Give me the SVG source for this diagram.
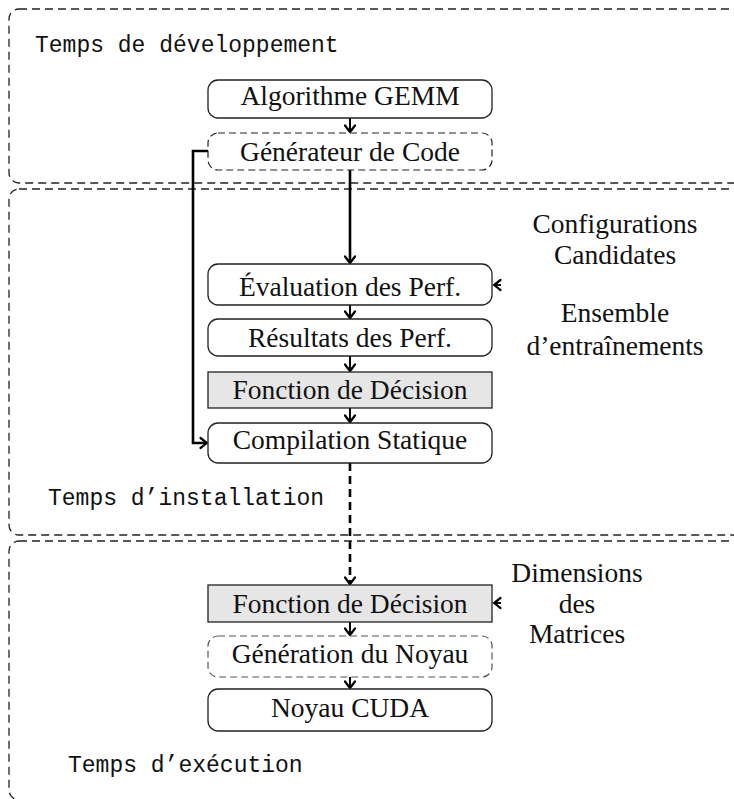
<svg xmlns="http://www.w3.org/2000/svg" width="734" height="799" viewBox="0 0 734 799">
<style>
.region{fill:none;stroke:#222;stroke-width:1.3;stroke-dasharray:8 5}
.box{fill:#fff;stroke:#222;stroke-width:1.3}
.dbox{fill:#fff;stroke:#222;stroke-width:1.2;stroke-dasharray:7 4}
.gdbox{fill:#fff;stroke:#555;stroke-width:1.2;stroke-dasharray:7 4}
.gray{fill:#e6e6e6;stroke:#222;stroke-width:1.3}
.t{font-family:"Liberation Serif","Times New Roman",serif;font-size:27.5px;fill:#111;text-anchor:middle}
.tt{font-family:"Liberation Mono","Courier New",monospace;font-size:23px;fill:#111}
.c{fill:none;stroke:#000;stroke-width:2}
.ck{fill:none;stroke:#000;stroke-width:2.6}
.cd{fill:none;stroke:#000;stroke-width:2.6;stroke-dasharray:8 5}
</style>
<defs>
<marker id="ah" viewBox="-9 -7 11 14" markerWidth="11" markerHeight="14" markerUnits="userSpaceOnUse" refX="0" refY="0" orient="auto">
<path d="M-6.5,-5 Q-1.5,-1.2 0,0 Q-1.5,1.2 -6.5,5" fill="none" stroke="#000" stroke-width="2.2" stroke-linecap="round"/>
</marker>
</defs>
<rect width="734" height="799" fill="#fff"/>
<g id="regions">
<rect id="dev" class="region" x="9" y="9" width="760" height="174" rx="10"/>
<rect id="install" class="region" x="9" y="189" width="760" height="346" rx="10"/>
<rect id="exec" class="region" x="9" y="541" width="760" height="259" rx="10"/>
<text class="tt" x="35" y="52">Temps de développement</text>
<text class="tt" x="48" y="505">Temps d’installation</text>
<text class="tt" x="68" y="772">Temps d’exécution</text>
</g>
<g id="connectors">
<path class="c" d="M350,118 V132" marker-end="url(#ah)"/>
<path class="ck" d="M350,170 V263" marker-end="url(#ah)"/>
<path class="ck" d="M208,151 H193 V443 H207" marker-end="url(#ah)"/>
<path class="c" d="M350,305 V318" marker-end="url(#ah)"/>
<path class="c" d="M350,356 V371" marker-end="url(#ah)"/>
<path class="c" d="M350,408 V422" marker-end="url(#ah)"/>
<path class="cd" d="M350,463 V584" marker-end="url(#ah)"/>
<path class="c" d="M350,622 V635" marker-end="url(#ah)"/>
<path class="c" d="M350,677 V688" marker-end="url(#ah)"/>
<path class="c" d="M501,285 H494" marker-end="url(#ah)"/>
<path class="c" d="M501,603 H494" marker-end="url(#ah)"/>
</g>
<g id="gemm"><rect class="box" x="208" y="80" width="284" height="38" rx="10"/><text class="t" x="350" y="105">Algorithme GEMM</text></g>
<g id="generateur"><rect class="dbox" x="208" y="133" width="284" height="37" rx="10"/><text class="t" x="350" y="161">Générateur de Code</text></g>
<g id="evaluation"><rect class="box" x="208" y="264" width="284" height="41" rx="10"/><text class="t" x="350" y="296">Évaluation des Perf.</text></g>
<g id="resultats"><rect class="box" x="208" y="319" width="284" height="37" rx="10"/><text class="t" x="350" y="347">Résultats des Perf.</text></g>
<g id="decision1"><rect class="gray" x="208" y="372" width="284" height="36"/><text class="t" x="350" y="399">Fonction de Décision</text></g>
<g id="compilation"><rect class="box" x="208" y="423" width="284" height="40" rx="10"/><text class="t" x="350" y="449">Compilation Statique</text></g>
<g id="decision2"><rect class="gray" x="208" y="585" width="284" height="37"/><text class="t" x="350" y="613">Fonction de Décision</text></g>
<g id="generation"><rect class="gdbox" x="208" y="636" width="284" height="41" rx="10"/><text class="t" x="350" y="663">Génération du Noyau</text></g>
<g id="cuda"><rect class="box" x="208" y="689" width="284" height="42" rx="10"/><text class="t" x="350" y="717">Noyau CUDA</text></g>
<g id="configurations"><text class="t" x="615" y="233">Configurations</text><text class="t" x="615" y="264">Candidates</text></g>
<g id="ensemble"><text class="t" x="615" y="322">Ensemble</text><text class="t" x="615" y="355">d’entraînements</text></g>
<g id="dimensions"><text class="t" x="577" y="582">Dimensions</text><text class="t" x="577" y="613">des</text><text class="t" x="577" y="643">Matrices</text></g>
</svg>
